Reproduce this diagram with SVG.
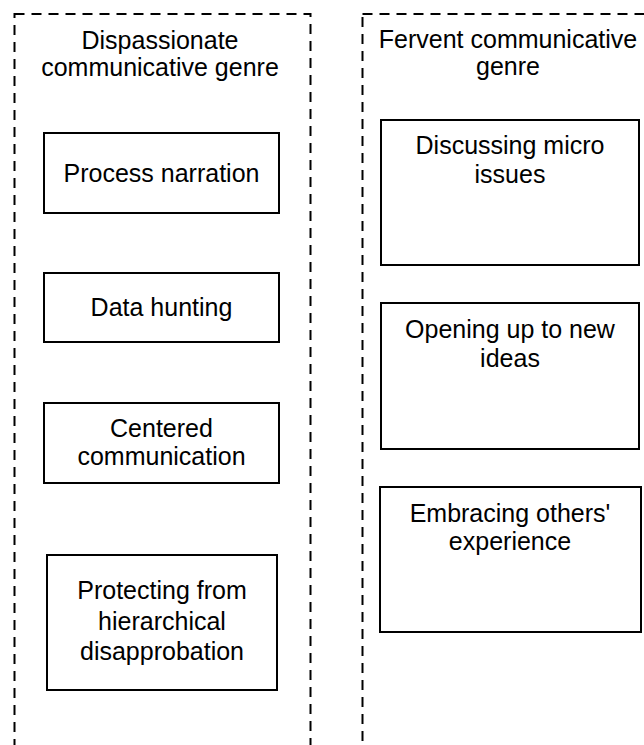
<svg xmlns="http://www.w3.org/2000/svg" width="644" height="745" viewBox="0 0 644 745">
<style>
.container{fill:none;stroke:#000;stroke-width:2;stroke-dasharray:10 7}
.box{fill:#fff;stroke:#000;stroke-width:2}
text{font-family:"Liberation Sans",Arial,Helvetica,sans-serif;font-size:25px;fill:#000;text-anchor:middle}
</style>
<rect width="644" height="745" fill="#fff"/>
<g id="group-dispassionate">
<rect class="container" x="14.5" y="14" width="296" height="760"/>
<text x="160" y="49">Dispassionate</text>
<text x="160" y="76">communicative genre</text>
</g>
<g id="group-fervent">
<rect class="container" x="362.5" y="14" width="292" height="760"/>
<text x="508" y="48">Fervent communicative</text>
<text x="508" y="75">genre</text>
</g>
<g id="node-process">
<rect class="box" x="44" y="133" width="235" height="80"/>
<text x="161.5" y="182">Process narration</text>
</g>
<g id="node-data">
<rect class="box" x="44" y="273" width="235" height="69"/>
<text x="161.5" y="316">Data hunting</text>
</g>
<g id="node-centered">
<rect class="box" x="44" y="403" width="235" height="80"/>
<text x="161.5" y="437">Centered</text>
<text x="161.5" y="465">communication</text>
</g>
<g id="node-protecting">
<rect class="box" x="47" y="555" width="230" height="135"/>
<text x="162" y="599">Protecting from</text>
<text x="162" y="630">hierarchical</text>
<text x="162" y="660">disapprobation</text>
</g>
<g id="node-discussing">
<rect class="box" x="381" y="120" width="258" height="145"/>
<text x="510" y="154">Discussing micro</text>
<text x="510" y="183">issues</text>
</g>
<g id="node-opening">
<rect class="box" x="381" y="303" width="258" height="146"/>
<text x="510" y="337.5">Opening up to new</text>
<text x="510" y="366.5">ideas</text>
</g>
<g id="node-embracing">
<rect class="box" x="380" y="487" width="261" height="145"/>
<text x="510" y="521.5">Embracing others'</text>
<text x="510" y="549.5">experience</text>
</g>
<g id="connectors"></g>
</svg>
